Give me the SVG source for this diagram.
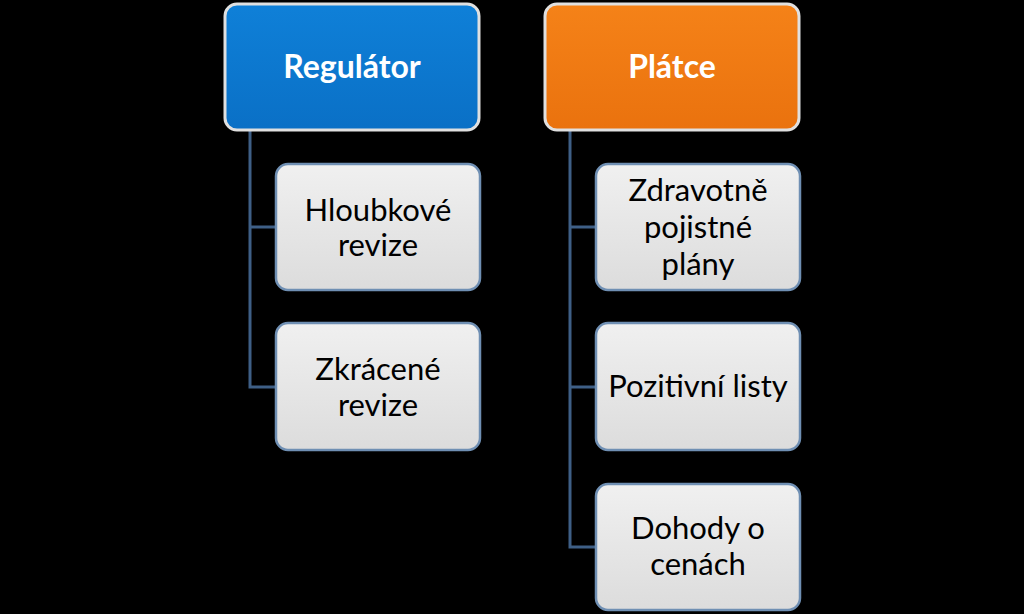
<svg xmlns="http://www.w3.org/2000/svg" width="1024" height="614" viewBox="0 0 1024 614">
<defs>
<linearGradient id="gBlue" x1="0" y1="0" x2="0" y2="1">
<stop offset="0" stop-color="#0f80d8"/><stop offset="1" stop-color="#0a70c6"/>
</linearGradient>
<linearGradient id="gOrange" x1="0" y1="0" x2="0" y2="1">
<stop offset="0" stop-color="#f58218"/><stop offset="1" stop-color="#ea720e"/>
</linearGradient>
<linearGradient id="gGray" x1="0" y1="0" x2="0" y2="1">
<stop offset="0" stop-color="#f0f0f0"/><stop offset="1" stop-color="#dcdcdc"/>
</linearGradient>
</defs>
<style>
.top{stroke:#e0e0e0;stroke-width:3}
.child{fill:url(#gGray);stroke:#6f8fb3;stroke-width:2.5}
.t{font-family:Lato,"Open Sans",sans-serif;font-size:31px;text-anchor:middle;fill:#000}
.tt{font-family:Lato,"Open Sans",sans-serif;font-size:32px;font-weight:bold;text-anchor:middle;fill:#fff}
.con{stroke:#3e5f86;stroke-width:3;fill:none}
</style>
<rect width="1024" height="614" fill="#000"/>
<g id="connectors">
<path class="con" d="M250,131 V387 H276 M250,227 H276"/>
<path class="con" d="M570,131 V547 H596 M570,227 H596 M570,387 H596"/>
</g>
<g id="regulator">
<rect class="top" x="225" y="4" width="254" height="126" rx="12" fill="url(#gBlue)"/>
<text class="tt" x="352" y="78">Regulátor</text>
</g>
<g id="platce">
<rect class="top" x="545" y="4" width="254" height="126" rx="12" fill="url(#gOrange)"/>
<text class="tt" x="672" y="78">Plátce</text>
</g>
<g id="hloubkove">
<rect class="child" x="276" y="164" width="204" height="126" rx="12"/>
<text class="t" x="378" y="221">Hloubkové</text>
<text class="t" x="378" y="256">revize</text>
</g>
<g id="zkracene">
<rect class="child" x="276" y="323" width="204" height="127" rx="12"/>
<text class="t" x="378" y="380">Zkrácené</text>
<text class="t" x="378" y="416">revize</text>
</g>
<g id="zdravotne">
<rect class="child" x="596" y="164" width="204" height="126" rx="12"/>
<text class="t" x="698" y="201">Zdravotně</text>
<text class="t" x="698" y="238">pojistné</text>
<text class="t" x="698" y="275">plány</text>
</g>
<g id="pozitivni">
<rect class="child" x="596" y="323" width="204" height="127" rx="12"/>
<text class="t" x="698" y="397">Pozitivní listy</text>
</g>
<g id="dohody">
<rect class="child" x="596" y="484" width="204" height="126" rx="12"/>
<text class="t" x="698" y="539">Dohody o</text>
<text class="t" x="698" y="575">cenách</text>
</g>
</svg>
